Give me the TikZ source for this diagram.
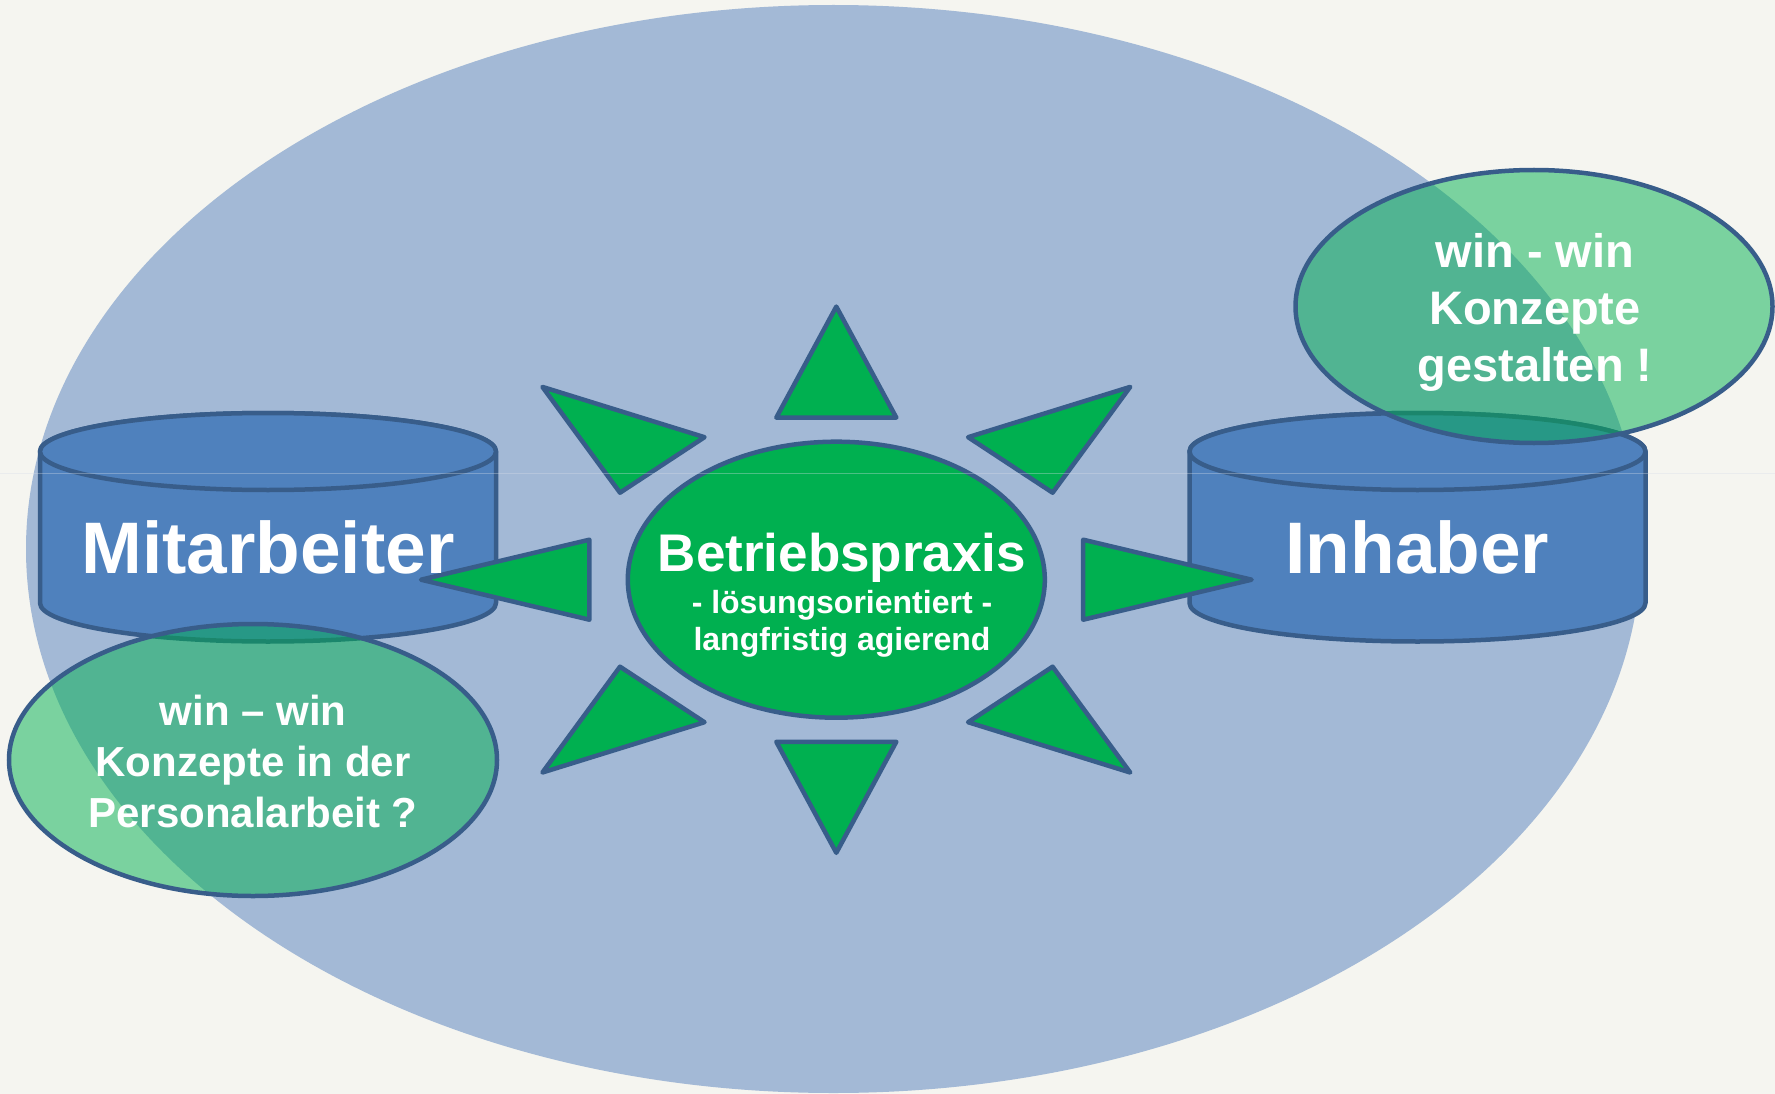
\documentclass[tikz,border=0pt]{standalone}
\usepackage{fontspec}
\setmainfont{Liberation Sans}
\usetikzlibrary{shapes.geometric}
\definecolor{bgc}{HTML}{F5F5F0}
\definecolor{bigblue}{HTML}{A3B9D6}
\definecolor{cylblue}{HTML}{4F81BD}
\definecolor{dkblue}{HTML}{385D8A}
\definecolor{sungreen}{HTML}{00B050}
\definecolor{guide}{HTML}{D7DEE8}
\begin{document}
\begin{tikzpicture}[x=1pt,y=-1pt,
  outl/.style={draw=dkblue, line width=4.5pt, line join=round},
  cyl/.style={outl, fill=cylblue},
  ray/.style={outl, fill=sungreen},
  blob/.style={ellipse, draw=dkblue, line width=4.5pt, fill=sungreen, fill opacity=0.5, inner sep=0pt},
  core/.style={ellipse, draw=dkblue, line width=4.5pt, fill=sungreen, inner sep=0pt},
  lbl/.style={text=white, inner sep=0pt, align=center, anchor=base}]
\useasboundingbox[fill=bgc] (0,0) rectangle (1775,1094);
% large background ellipse
\fill[bigblue] (833.5,549) ellipse[x radius=807.5, y radius=544];
% cylinder Mitarbeiter
\filldraw[cyl] (40,451.5) -- (40,603) arc[start angle=180, end angle=0, x radius=228, y radius=38.5]
  -- (496,451.5) arc[start angle=0, end angle=-180, x radius=228, y radius=38.5] -- cycle;
\filldraw[cyl] (268,451.5) ellipse[x radius=228, y radius=38.5];
% cylinder Inhaber
\filldraw[cyl] (1189.5,451.5) -- (1189.5,603) arc[start angle=180, end angle=0, x radius=228, y radius=38.5]
  -- (1645.5,451.5) arc[start angle=0, end angle=-180, x radius=228, y radius=38.5] -- cycle;
\filldraw[cyl] (1417.5,451.5) ellipse[x radius=228, y radius=38.5];
% win-win ellipses
\node[blob, minimum width=488pt, minimum height=272pt] (blobL) at (253,760) {};
\node[blob, minimum width=477pt, minimum height=273pt] (blobR) at (1534,306.5) {};
% central ellipse
\node[core, minimum width=417pt, minimum height=276pt] (core) at (836.3,579.7) {};
% rays
\filldraw[ray] (836.3,306.6) -- (776.3,417.6) -- (896.3,417.6) -- cycle;
\filldraw[ray] (836.3,852.8) -- (776.3,741.8) -- (896.3,741.8) -- cycle;
\filldraw[ray] (421,579.7) -- (589.4,539.7) -- (589.4,619.7) -- cycle;
\filldraw[ray] (1251.6,579.7) -- (1083.2,539.7) -- (1083.2,619.7) -- cycle;
\filldraw[ray] (542.4,386.9) -- (704.5,437.2) -- (620,492.7) -- cycle;
\filldraw[ray] (1130.2,386.9) -- (968.1,437.2) -- (1052.6,492.7) -- cycle;
\filldraw[ray] (542.4,772.5) -- (704.5,722.2) -- (620,666.7) -- cycle;
\filldraw[ray] (1130.2,772.5) -- (968.1,722.2) -- (1052.6,666.7) -- cycle;
% texts (anchor base = baseline of the last line)
\node[lbl, font=\bfseries\fontsize{73}{80}\selectfont] (mit) at (268,573.5) {Mitarbeiter};
\node[lbl, font=\bfseries\fontsize{73}{80}\selectfont] (inh) at (1417.5,573.5) {Inhaber};
\node[lbl, font=\bfseries\fontsize{53}{60}\selectfont] (bp) at (842,571) {Betriebspraxis};
\node[lbl, font=\bfseries\fontsize{32}{37}\selectfont] (bpsub) at (842,650.7) {- lösungsorientiert -\\langfristig agierend};
\node[lbl, font=\bfseries\fontsize{42}{51}\selectfont] (wwL) at (253,827.7) {win – win\\Konzepte in der\\Personalarbeit ?};
\node[lbl, font=\bfseries\fontsize{47}{57}\selectfont] (wwR) at (1535,381.7) {win - win\\Konzepte\\gestalten !};
% faint guide line
\draw[guide, line width=1pt, opacity=0.35] (0,473) -- (1775,473);
\end{tikzpicture}
\end{document}
